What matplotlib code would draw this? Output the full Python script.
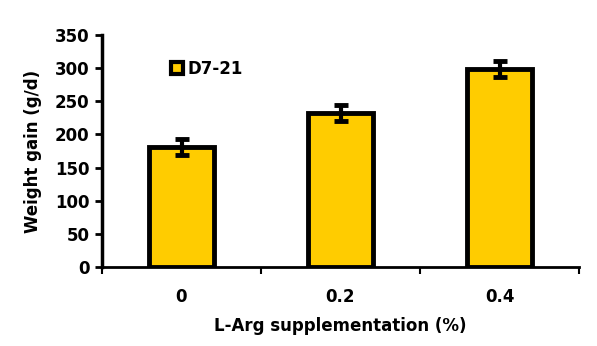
import matplotlib
matplotlib.use("Agg")
import matplotlib.pyplot as plt
from matplotlib.lines import Line2D

categories = ["0", "0.2", "0.4"]
weight_gain = [181, 232, 299]
errors = [12, 12, 12]
series_label = "D7-21"

plt.rcParams['font.family'] = ['DejaVu Sans']
fig = plt.figure(figsize=(5.97, 3.46), dpi=100)
W, H = 597, 346
ax = fig.add_axes([102 / W, (H - 267) / H, 477 / W, 232 / H])

x = list(range(len(categories)))
ax.bar(x, weight_gain, width=0.41, color="#FFCC00", edgecolor="black",
       linewidth=3.5, zorder=2)
ax.errorbar(x, weight_gain, yerr=errors, fmt="none", ecolor="black",
            elinewidth=3, capsize=5, capthick=3.5, zorder=3)

ax.set_xlim(-0.5, len(categories) - 0.5)
ax.set_ylim(0, 350)
ax.set_yticks(range(0, 351, 50))
ax.set_xticks([i + 0.5 for i in range(-1, len(categories))], minor=False)
ax.set_xticklabels([])
ax.set_xticks(x, minor=True)
ax.set_xticklabels(categories, minor=True)
ax.tick_params(axis="x", which="major", direction="out", length=5, width=1.5)
ax.tick_params(axis="x", which="minor", length=0, pad=15, labelsize=12)
ax.tick_params(axis="y", direction="out", length=5, width=2, labelsize=12, pad=4)
for lbl in ax.get_xticklabels(minor=True) + ax.get_yticklabels():
    lbl.set_fontweight("bold")

for s in ["top", "right"]:
    ax.spines[s].set_visible(False)
ax.spines["left"].set_linewidth(2.5)
ax.spines["bottom"].set_linewidth(2)

ax.set_ylabel("Weight gain (g/d)", fontsize=12, fontweight="bold", labelpad=9)
ax.set_xlabel("L-Arg supplementation (%)", fontsize=12, fontweight="bold", labelpad=8)

handle = Line2D([], [], marker="s", linestyle="none", markersize=8,
                markerfacecolor="#FFCC00", markeredgecolor="black", markeredgewidth=3)
ax.legend([handle], [series_label], loc="upper left", bbox_to_anchor=(0.133, 0.922),
          frameon=False, handlelength=0.6, handletextpad=0.3, borderaxespad=0,
          prop={"weight": "bold", "size": 12})

fig.savefig("out.png", dpi=100)
